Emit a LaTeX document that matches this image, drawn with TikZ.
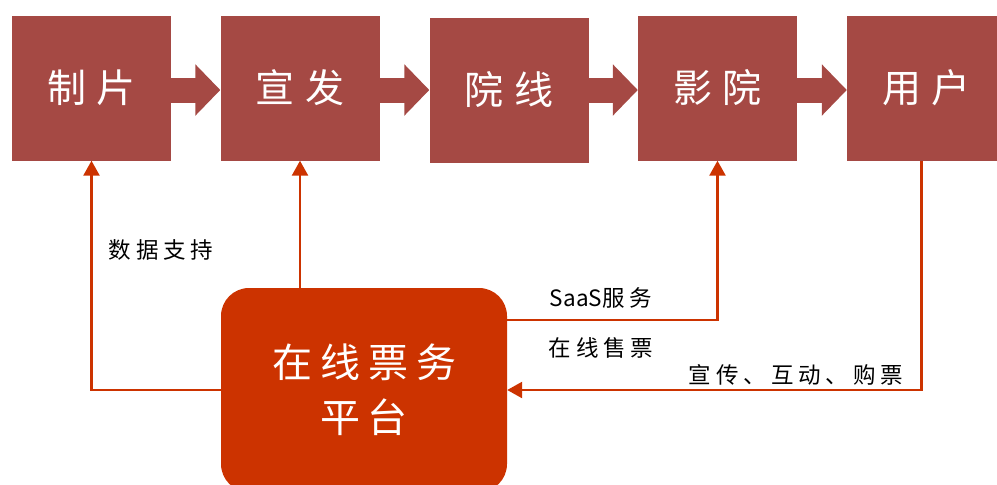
\documentclass[tikz,border=0pt]{standalone}
\usepackage{fontspec}
\setmainfont{Noto Sans CJK SC}
\newfontfamily\boxfont[LetterSpace=26]{Noto Sans CJK SC}
\newfontfamily\platfont[LetterSpace=20]{Noto Sans CJK SC}
\newfontfamily\labfont[LetterSpace=22]{Noto Sans CJK SC}
\usetikzlibrary{arrows.meta}
\definecolor{boxred}{RGB}{165,73,68}
\definecolor{platred}{RGB}{204,51,0}

\begin{document}
\begin{tikzpicture}[x=1pt, y=-1pt,
    stage/.style={fill=boxred, text=white, minimum width=159pt, minimum height=145pt,
        inner sep=0pt, font=\boxfont\fontsize{39}{44}\selectfont},
    chevron/.style={draw=boxred, line width=25pt, -{Triangle[length=25pt, width=50pt]}},
    link/.style={draw=platred, line width=2.5pt, -{Triangle[length=15pt, width=16pt]}},
    lab/.style={font=\labfont\fontsize{22.5}{26}\selectfont, inner sep=0pt}]
        \useasboundingbox (0,0) rectangle (997,485);

        % top chain
        \node[stage] (zp) at (91.5,88) {制片};
        \node[stage] (xf) at (300,88) {宣发};
        \node[stage] (yx) at (509,90) {院线};
        \node[stage] (yy) at (717.5,88) {影院};
        \node[stage] (yh) at (926.5,88) {用户};
        \foreach \a/\b in {zp/xf, xf/yx, yx/yy, yy/yh}
        {
            \draw[chevron] (\a.east |- 0,90) -- (\b.west |- 0,90);
        }

        % platform
        \node[fill=platred, text=white, rounded corners=28pt, minimum width=286pt,
            minimum height=204pt, align=center, font=\platfont\fontsize{40}{55}\selectfont]
            (plat) at (364,390) {在线票务\\平台};

        % links
        \draw[link] (plat.west) -| (zp.south);
        \draw[link] (plat.north -| xf.south) -- (xf.south);
        \draw[link] ([yshift=70pt]plat.east) -| (yy.south);
        \draw[link] ([xshift=-5pt]yh.south) |- (plat.east);

        % labels
        \node[lab] (sjzc) at (161,250) {数据支持};
        \node[lab] (saas) at (601,298) {{\normalfont SaaS}服务};
        \node[lab] (zxsp) at (601,348) {在线售票};
        \node[lab] (xchd) at (796,375) {宣传、互动、购票};
\end{tikzpicture}
\end{document}
